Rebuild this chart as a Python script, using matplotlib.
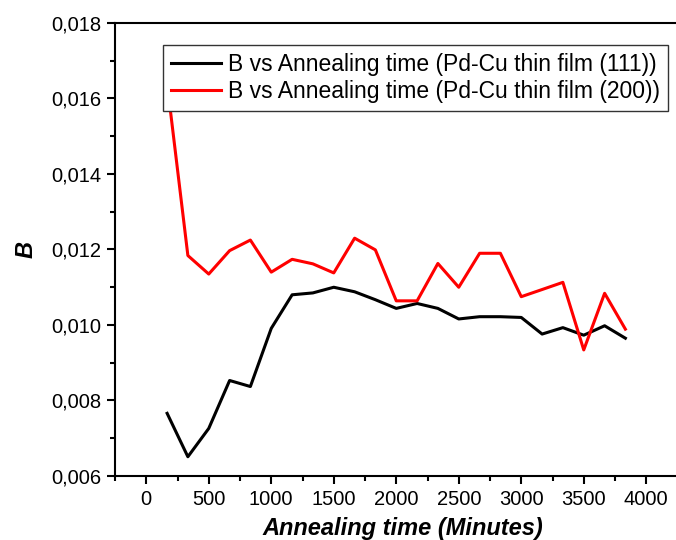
import numpy as np
import matplotlib.pyplot as plt
from matplotlib.ticker import MultipleLocator, FuncFormatter

plt.rcParams['font.family'] = ['Liberation Sans', 'DejaVu Sans']

# annealing time in minutes
time_min = [167, 333, 500, 667, 833, 1000, 1167, 1333, 1500, 1667, 1833, 2000,
            2167, 2333, 2500, 2667, 2833, 3000, 3167, 3333, 3500, 3667, 3833]

b_111 = [0.00766, 0.00651, 0.00726, 0.00853, 0.00837, 0.00991, 0.01080, 0.01085,
         0.01100, 0.01088, 0.01067, 0.01044, 0.01057, 0.01044, 0.01016, 0.01022,
         0.01022, 0.01020, 0.00976, 0.00993, 0.00973, 0.00998, 0.00965]

b_200 = [0.01640, 0.01184, 0.01135, 0.01197, 0.01225, 0.01140, 0.01174, 0.01162,
         0.01138, 0.01230, 0.01199, 0.01064, 0.01064, 0.01163, 0.01100, 0.01190,
         0.01190, 0.01075, 0.01094, 0.01113, 0.00934, 0.01084, 0.00989]

label_111 = 'B vs Annealing time (Pd-Cu thin film (111))'
label_200 = 'B vs Annealing time (Pd-Cu thin film (200))'

fig = plt.figure(figsize=(6.76, 5.4), dpi=100)
ax = fig.add_axes([115 / 676, 64 / 540, 575 / 676, 453 / 540])

ax.plot(time_min, b_111, color='black', lw=2.2, label=label_111)
ax.plot(time_min, b_200, color='red', lw=2.2, label=label_200)

ax.set_xlim(-250, 4350)
ax.set_ylim(0.006, 0.018)

ax.xaxis.set_major_locator(MultipleLocator(500))
ax.xaxis.set_minor_locator(MultipleLocator(250))
ax.yaxis.set_major_locator(MultipleLocator(0.002))
ax.yaxis.set_minor_locator(MultipleLocator(0.001))
ax.yaxis.set_major_formatter(FuncFormatter(lambda v, p: f'{v:.3f}'.replace('.', ',')))

ax.tick_params(which='major', direction='out', length=6, width=1.5, labelsize=14.5, pad=4)
ax.tick_params(which='minor', direction='out', length=3.5, width=1.5)
for s in ax.spines.values():
    s.set_linewidth(1.5)

ax.set_xlabel('Annealing time (Minutes)', fontsize=17, fontweight='bold', style='italic', labelpad=6)
ax.set_ylabel('B', fontsize=17, fontweight='bold', style='italic', labelpad=10)

leg = fig.legend(loc='upper left', bbox_to_anchor=(163 / 676, 1 - 45 / 540), fontsize=16.5,
                 frameon=True, fancybox=False, framealpha=1, edgecolor='#333333',
                 handlelength=2.2, handletextpad=0.3, borderpad=0.35, labelspacing=0.18,
                 borderaxespad=0)
leg.get_frame().set_linewidth(1.0)

fig.savefig('out.png', dpi=100)
